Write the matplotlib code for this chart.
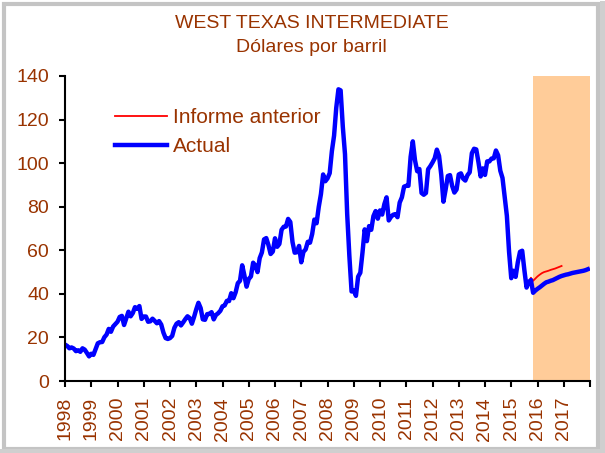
import numpy as np
import matplotlib
matplotlib.use("Agg")
import matplotlib.pyplot as plt
from matplotlib.patches import Rectangle

plt.rcParams['font.family'] = ['Liberation Sans', 'DejaVu Sans']

MARRON = '#993300'

# WTI mensual, ene-1998 a sep-2015 (USD/barril)
historia = [
    16.7, 16.1, 15.0, 15.4, 14.9, 13.7, 14.1, 13.4, 15.0, 14.4, 12.9, 11.3,
    12.5, 12.0, 14.7, 17.3, 17.8, 17.9, 20.1, 21.3, 23.9, 22.6, 25.0, 26.1,
    27.2, 29.4, 29.9, 25.7, 28.8, 31.8, 29.7, 31.2, 33.9, 33.1, 34.4, 28.5,
    29.6, 29.6, 27.2, 27.4, 28.6, 27.6, 26.5, 27.5, 25.9, 22.2, 19.7, 19.3,
    19.7, 20.7, 24.4, 26.3, 27.0, 25.5, 26.9, 28.4, 29.7, 28.9, 26.3, 29.4,
    32.9, 35.9, 33.5, 28.3, 28.1, 30.7, 30.8, 31.6, 28.3, 30.3, 31.1, 32.2,
    34.3, 34.7, 36.8, 36.7, 40.3, 38.0, 40.7, 44.9, 46.0, 53.1, 48.5, 43.3,
    46.8, 48.0, 54.3, 53.0, 50.0, 56.4, 59.0, 65.0, 65.6, 62.4, 58.3, 59.4,
    65.5, 61.6, 62.9, 69.4, 70.8, 70.9, 74.4, 73.0, 63.8, 58.9, 59.1, 62.0,
    54.5, 59.3, 60.4, 63.9, 63.5, 67.5, 74.1, 72.4, 79.9, 85.8, 94.8, 91.7,
    93.0, 95.4, 105.5, 112.6, 125.4, 133.9, 133.4, 116.7, 104.1, 76.6, 57.3, 41.1,
    41.7, 39.1, 47.9, 49.7, 59.0, 69.6, 64.2, 71.1, 69.4, 75.7, 78.0, 74.5,
    78.3, 76.4, 81.2, 84.3, 73.7, 75.3, 76.3, 76.6, 75.2, 81.9, 84.3, 89.2,
    89.6, 89.6, 102.9, 110.0, 101.3, 96.3, 97.3, 86.3, 85.5, 86.3, 97.2, 98.6,
    100.3, 102.2, 106.2, 103.3, 94.7, 82.3, 87.9, 94.1, 94.5, 89.5, 86.5, 87.9,
    94.8, 95.3, 92.9, 92.0, 94.5, 95.8, 104.6, 106.6, 106.3, 100.5, 93.9, 97.6,
    94.6, 100.8, 100.8, 102.1, 102.2, 105.8, 103.6, 96.5, 93.2, 84.4, 75.8, 59.3,
    47.2, 50.6, 47.8, 54.5, 59.3, 59.8, 50.9, 42.9, 45.5,
]

# Informe anterior: oct-2015 a dic-2016
anterior_proy = [47.4, 46.0, 47.0, 48.0, 48.8, 49.5, 50.0, 50.3, 50.6, 51.0,
                 51.3, 51.6, 52.0, 52.4, 52.8]

# Actual: oct-2015 a dic-2017
actual_proy = [46.3, 40.5, 41.5, 42.3, 43.0, 43.8, 44.6, 45.3, 45.6, 46.0,
               46.3, 46.8, 47.3, 47.8, 48.2, 48.5, 48.8, 49.0, 49.3, 49.6,
               49.8, 50.0, 50.2, 50.4, 50.6, 50.9, 51.3]

anios = list(range(1998, 2019))
etiquetas = [str(a) for a in anios[:-1]] + ['']
inicio_proy = 2015 + 10 / 12

anterior = historia + anterior_proy
actual = historia + actual_proy
x_ant = 1998 + np.arange(len(anterior)) / 12
x_act = 1998 + np.arange(len(actual)) / 12

fig = plt.figure(figsize=(6.05, 4.53), dpi=100)
ax = fig.add_axes([65 / 605, 1 - 381 / 453, 525 / 605, 305 / 453])

# marco gris del grafico
fig.patches.append(Rectangle((4, 4), 594, 445, transform=None, fill=False,
                             edgecolor='#C4C4C4', lw=3, zorder=0))
fig.patches.append(Rectangle((600, 0), 5, 452, transform=None,
                             facecolor='#CFCFCF', edgecolor='none'))
fig.patches.append(Rectangle((0, 0), 605, 4, transform=None,
                             facecolor='#CFCFCF', edgecolor='none'))

ax.axvspan(inicio_proy, 2018, color='#FFCC99', lw=0, zorder=0)
ax.plot(x_ant, anterior, color='#FF0000', lw=1.3, label='Informe anterior')
ax.plot(x_act, actual, color='#0000FF', lw=3.2, label='Actual',
        solid_joinstyle='round')

ax.set_xlim(1998, 2018)
ax.set_ylim(0, 140)
ax.set_yticks(range(0, 141, 20))
ax.set_xticks(anios)
ax.set_xticklabels(etiquetas, rotation=90)

for lado in ['top', 'right']:
    ax.spines[lado].set_visible(False)
for lado in ['left', 'bottom']:
    ax.spines[lado].set_linewidth(1.5)
ax.tick_params(axis='both', colors='black', labelcolor=MARRON, labelsize=14,
               length=4.5, width=1.5, pad=7)

ax.legend(loc='upper left', bbox_to_anchor=(0.095, 0.895), frameon=False,
          fontsize=15, labelcolor=MARRON, handlelength=2.5,
          handletextpad=0.3, labelspacing=0.5, borderpad=0, borderaxespad=0)

fig.text(0.515, 1 - 24 / 453, 'WEST TEXAS INTERMEDIATE', color=MARRON,
         fontsize=14, ha='center', va='center')
fig.text(0.515, 1 - 47 / 453, 'Dólares por barril', color=MARRON,
         fontsize=14, ha='center', va='center')

fig.savefig('out.png', dpi=100)
